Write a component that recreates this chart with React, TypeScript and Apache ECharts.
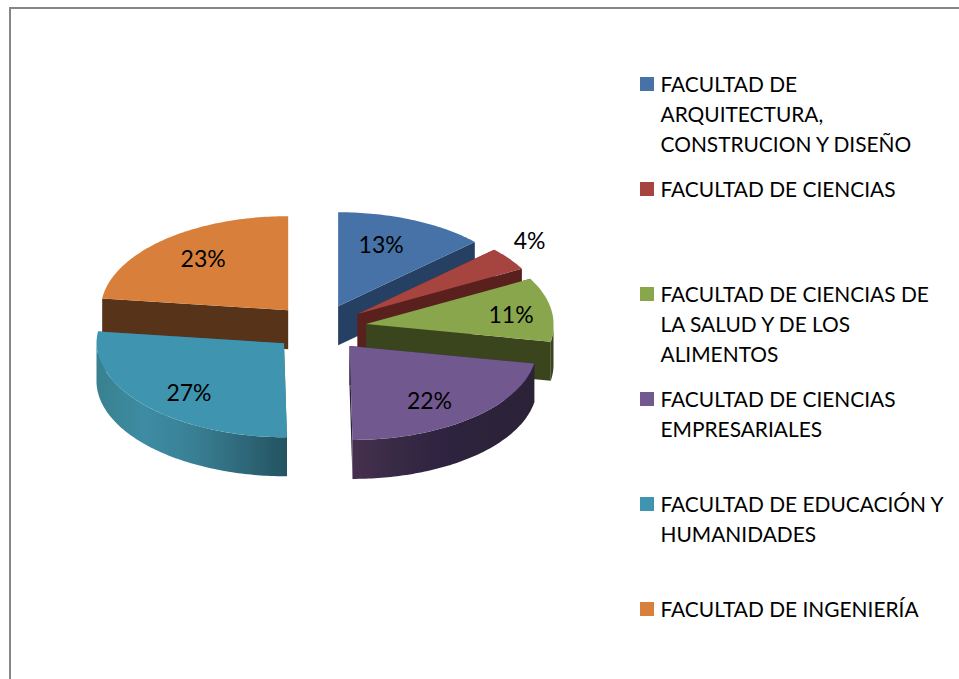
import React, { useEffect, useRef } from "react";
import * as echarts from "echarts";

const FACULTIES = [
  "FACULTAD DE ARQUITECTURA, CONSTRUCION Y DISEÑO",
  "FACULTAD DE CIENCIAS",
  "FACULTAD DE CIENCIAS DE LA SALUD Y DE LOS ALIMENTOS",
  "FACULTAD DE CIENCIAS EMPRESARIALES",
  "FACULTAD DE EDUCACIÓN Y HUMANIDADES",
  "FACULTAD DE INGENIERÍA",
];
const LEGEND_LINES = [
  ["FACULTAD DE", "ARQUITECTURA,", "CONSTRUCION Y DISEÑO"],
  ["FACULTAD DE CIENCIAS"],
  ["FACULTAD DE CIENCIAS DE", "LA SALUD Y DE LOS", "ALIMENTOS"],
  ["FACULTAD DE CIENCIAS", "EMPRESARIALES"],
  ["FACULTAD DE EDUCACIÓN Y", "HUMANIDADES"],
  ["FACULTAD DE INGENIERÍA"],
];
const VALUES = [13, 4, 11, 22, 27, 23];

const TOP_COLORS = ["#4672A8", "#A64440", "#8AA64D", "#71588F", "#3F95AF", "#D8803B"];
const WALL_COLORS = ["#254062", "#5A201D", "#3A451D", "#2C2239", "#2F6A7C", "#57331A"];
const ARC_STOPS: (string[] | null)[] = [
  null,
  null,
  null,
  ["#46304F", "#372A45", "#2E2340", "#2C2239", "#2B2238"],
  ["#39808F", "#3D8CA3", "#3A8095", "#2F6A7C", "#235360"],
  null,
];
const DRAW_ORDER = [0, 1, 2, 5, 4, 3];
// label centres relative to the apex of each exploded slice
const LABEL_OFFSETS = [
  [43, -62],
  [172, -74],
  [145, -10],
  [80, 54],
  [-95, 49],
  [-85, -52],
];

const FONT = "Lato";
const CX = 319.4;
const CY = 327.8;
const RX = 187.5;
const RY = 94;
const EXPLODE = 0.25;
const DEPTH = 39;
const SHEAR = 0.032;

const total = VALUES.reduce((a, b) => a + b, 0);
const cumulative = VALUES.reduce<number[]>((acc, v) => [...acc, (acc[acc.length - 1] ?? 0) + v], []);

function renderSlice(params: any, api: any) {
  const i = params.dataIndex;
  const value = api.value(0);
  const end = (cumulative[i] / total) * 360;
  const start = end - (value / total) * 360;
  const rad = (d: number) => (d * Math.PI) / 180;
  const mid = rad((start + end) / 2);
  const ax = CX + 47.2 * Math.sin(mid);
  const ay = CY - RY * EXPLODE * Math.cos(mid);
  const pt = (deg: number, drop = 0): number[] => {
    const dy = -RY * Math.cos(rad(deg));
    return [ax + RX * Math.sin(rad(deg)) + SHEAR * Math.max(0, dy), ay + dy + drop];
  };
  const arc = (from: number, to: number, drop = 0) => {
    const n = Math.max(2, Math.ceil(Math.abs(to - from)));
    return Array.from({ length: n + 1 }, (_, k) => pt(from + ((to - from) * k) / n, drop));
  };
  const base = DRAW_ORDER.indexOf(i) * 10;
  const children: any[] = [];
  const wall = WALL_COLORS[i];
  const radial = (deg: number, z: number) => ({
    type: "polygon",
    z2: base + z,
    shape: { points: [[ax, ay], pt(deg), pt(deg, DEPTH), [ax, ay + DEPTH]] },
    style: { fill: wall },
  });
  children.push(radial(start, 0), radial(end, 1));
  const a0 = Math.max(start, 90);
  const a1 = Math.min(end, 270);
  if (a1 > a0) {
    const stops = ARC_STOPS[i];
    const fill = stops
      ? {
          type: "linear",
          x: 0,
          y: 0,
          x2: 1,
          y2: 0,
          colorStops: stops.map((color, k) => ({ offset: k / (stops.length - 1), color })),
        }
      : wall;
    children.push({
      type: "polygon",
      z2: base + 2,
      shape: { points: [...arc(a0, a1), ...arc(a1, a0, DEPTH)] },
      style: { fill },
    });
  }
  children.push({
    type: "polygon",
    z2: base + 3,
    shape: { points: [[ax, ay], ...arc(start, end)] },
    style: { fill: TOP_COLORS[i] },
  });
  children.push({
    type: "text",
    z2: 100,
    style: {
      x: ax + LABEL_OFFSETS[i][0],
      y: ay + LABEL_OFFSETS[i][1],
      text: `${Math.round((value / total) * 100)}%`,
      fill: "#000",
      font: `23px ${FONT}`,
      align: "center",
      verticalAlign: "middle",
    },
  });
  return { type: "group", children };
}

const legendGraphics = LEGEND_LINES.flatMap((lines, i) => {
  const y = 84 + i * 105;
  return [
    {
      type: "rect",
      shape: { x: 640, y: y - 7, width: 14, height: 14 },
      style: { fill: TOP_COLORS[i] },
    },
    ...lines.map((line, k) => ({
      type: "text",
      style: {
        x: 660.5,
        y: y - 1 + k * 30,
        text: line,
        fill: "#000",
        font: `20.9px ${FONT}`,
        align: "left",
        verticalAlign: "middle",
      },
    })),
  ];
});

export default function App() {
  const ref = useRef<HTMLDivElement>(null);
  useEffect(() => {
    const chart = echarts.init(ref.current!, undefined, { renderer: "svg" });
    chart.setOption({
      animation: false,
      backgroundColor: "#fff",
      series: [
        {
          type: "custom",
          coordinateSystem: "none",
          silent: true,
          data: VALUES.map((value, i) => ({ name: FACULTIES[i], value: [value] })),
          renderItem: renderSlice,
        },
      ],
      graphic: [
        {
          type: "polyline",
          shape: { points: [[10, 679], [10, 8], [959, 8]] },
          style: { fill: "none", stroke: "#868686", lineWidth: 2 },
        },
        ...legendGraphics,
      ],
    });
    return () => chart.dispose();
  }, []);
  return <div ref={ref} style={{ position: "fixed", left: 0, top: 0, width: 959, height: 679 }} />;
}
